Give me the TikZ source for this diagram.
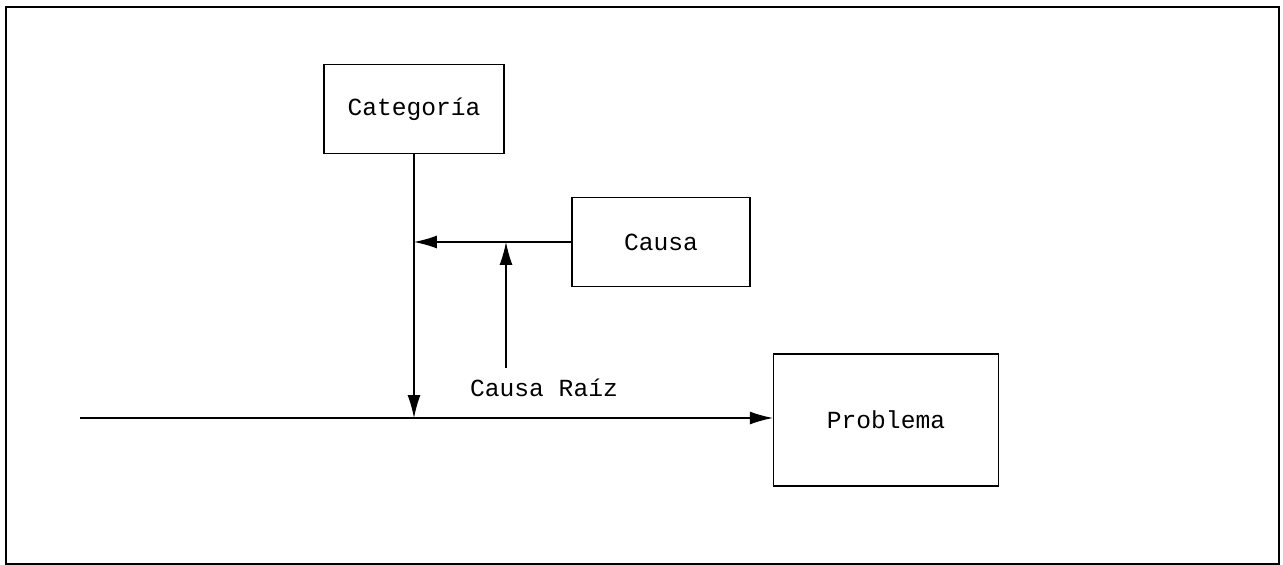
\documentclass[tikz,border=0pt]{standalone}
\usepackage{fontspec}
\setmonofont{Liberation Mono}
\usepackage{tikz}
\usetikzlibrary{math, arrows.meta}

\tikzset{
  caja/.style={draw, line width=0.7pt, font=\ttfamily\fontsize{14}{16}\selectfont},
  texto/.style={font=\ttfamily\fontsize{14}{16}\selectfont},
  flecha/.style={line width=0.7pt, -{Latex[length=4.6mm, width=2.6mm]}}
}

\begin{document}
\begin{tikzpicture}

\tikzmath{
\unit = .02;
}

\useasboundingbox (0,0) rectangle (1283*\unit, -565*\unit);
\draw[line width=1.4pt] (6*\unit, -7*\unit) rectangle (1279*\unit, -564*\unit);

\node[caja, minimum width=180*\unit cm, minimum height=89*\unit cm] (categoria) at (414*\unit, -109*\unit) {Categoría};
\node[caja, minimum width=178*\unit cm, minimum height=89*\unit cm] (causa) at (661*\unit, -242*\unit) {Causa};
\node[caja, minimum width=225*\unit cm, minimum height=132*\unit cm] (problema) at (886*\unit, -420*\unit) {Problema};
\node[texto] (raiz) at (544*\unit, -388*\unit) {Causa Raíz};

\coordinate (espina) at (80*\unit, -418*\unit);
\coordinate (cruce) at (414*\unit, -418*\unit);
\coordinate (union) at (414*\unit, -242*\unit);
\coordinate (pie) at (506*\unit, -368*\unit);
\coordinate (tope) at (506*\unit, -242*\unit);

\draw[line width=0.7pt] (espina) -- (cruce);
\draw[flecha] (cruce) -- (problema.west |- cruce);
\draw[flecha] (categoria.south) -- (cruce);
\draw[flecha] (causa.west) -- (union);
\draw[flecha] (pie) -- (tope);

\end{tikzpicture}
\end{document}
